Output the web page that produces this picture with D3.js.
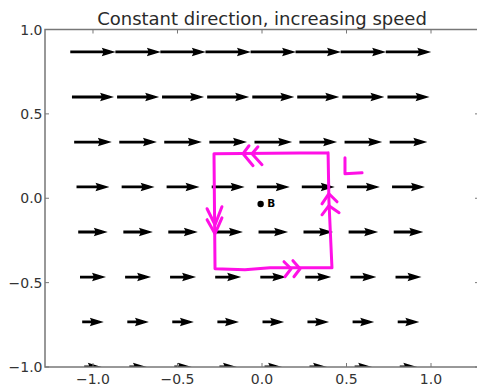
<!DOCTYPE html>
<html>
<head>
<meta charset="utf-8">
<script src="https://cdn.jsdelivr.net/npm/d3@7"></script>
<style>
  body { margin: 0; background: #fff; }
  svg { display: block; }
</style>
</head>
<body>
<svg id="chart"></svg>
<script>
// grid of arrow centres (same values on both axes)
const gridX = [-1, -0.733, -0.467, -0.2, 0.067, 0.333, 0.6, 0.867];
const gridY = [-1, -0.733, -0.467, -0.2, 0.067, 0.333, 0.6, 0.867];
// arrow length per row (x units), grows with y
const rowSpeed = [0.104, 0.128, 0.154, 0.175, 0.195, 0.223, 0.249, 0.269];

const xTicks = [-1.0, -0.5, 0.0, 0.5, 1.0];
const yTicks = [-1.0, -0.5, 0.0, 0.5, 1.0];

// hand drawn loop and marks (data units)
const loopPts = [[0.391, 0.270], [-0.284, 0.264], [-0.278, -0.418], [-0.101, -0.424],
  [0.047, -0.412], [0.414, -0.412], [0.396, -0.015], [0.391, 0.270]];
const chevrons = [
  [[-0.077, 0.311], [-0.112, 0.264], [-0.053, 0.193]],
  [[-0.024, 0.305], [-0.059, 0.264], [0.0, 0.199]],
  [[-0.325, -0.062], [-0.278, -0.157], [-0.237, -0.050]],
  [[-0.325, -0.127], [-0.278, -0.210], [-0.237, -0.116]],
  [[0.355, -0.033], [0.396, 0.027], [0.444, -0.021]],
  [[0.355, -0.098], [0.396, -0.044], [0.456, -0.086]],
  [[0.130, -0.376], [0.172, -0.418], [0.136, -0.465]],
  [[0.183, -0.370], [0.225, -0.418], [0.189, -0.465]]
];
const markL = [[0.491, 0.240], [0.491, 0.145], [0.592, 0.151]];
const pointB = { x: -0.008, y: -0.034, label: "B" };

const W = 477, H = 388;
const pLeft = 45, pRight = 479, pTop = 29.5, pBottom = 367;

const svg = d3.select("#chart").attr("width", W).attr("height", H);

const x = d3.scaleLinear().domain([-1.284, 1.284]).range([pLeft, pRight]);
const y = d3.scaleLinear().domain([-1, 1]).range([pBottom, pTop]);

svg.append("defs").append("clipPath").attr("id", "clip")
  .append("rect")
  .attr("x", pLeft).attr("y", pTop)
  .attr("width", pRight - pLeft).attr("height", pBottom - pTop);

// Add arrows (matplotlib quiver style, pivot middle)
const sw = 2.8; // shaft width px
function arrowPath(L) {
  const hl = 5 * sw, ha = 4.5 * sw, hw = 1.5 * sw, s = 0.5 * sw;
  const x0 = -L / 2;
  return [[x0, s], [x0 + L - ha, s], [x0 + L - hl, hw], [x0 + L, 0],
    [x0 + L - hl, -hw], [x0 + L - ha, -s], [x0, -s]]
    .map(p => p.join(",")).join(" ");
}

const arrowData = [];
gridY.forEach((gy, i) => {
  gridX.forEach(gx => arrowData.push({ gx, gy, u: rowSpeed[i] }));
});

const arrows = svg.append("g").attr("clip-path", "url(#clip)");
arrows.selectAll("polygon")
  .data(arrowData)
  .enter()
  .append("polygon")
  .attr("transform", d => "translate(" + x(d.gx) + "," + y(d.gy) + ")")
  .attr("points", d => arrowPath(x(d.u) - x(0)))
  .style("fill", "#000");

// Axes frame
svg.append("rect")
  .attr("x", pLeft).attr("y", pTop)
  .attr("width", pRight - pLeft).attr("height", pBottom - pTop)
  .style("fill", "none")
  .style("stroke", "#777")
  .style("stroke-width", 1.5);

const tickLen = 4;
const axisG = svg.append("g").style("stroke", "#777").style("stroke-width", 1);
xTicks.forEach(t => {
  axisG.append("line").attr("x1", x(t)).attr("x2", x(t)).attr("y1", pBottom).attr("y2", pBottom - tickLen);
  axisG.append("line").attr("x1", x(t)).attr("x2", x(t)).attr("y1", pTop).attr("y2", pTop + tickLen);
});
yTicks.forEach(t => {
  axisG.append("line").attr("y1", y(t)).attr("y2", y(t)).attr("x1", pLeft).attr("x2", pLeft + tickLen);
  axisG.append("line").attr("y1", y(t)).attr("y2", y(t)).attr("x1", pRight).attr("x2", pRight - tickLen);
});

const fmt = v => d3.format(".1f")(v).replace("-", "\u2212");

svg.append("g").selectAll("text")
  .data(xTicks)
  .enter()
  .append("text")
  .attr("x", d => x(d))
  .attr("y", pBottom + 16.5)
  .attr("text-anchor", "middle")
  .text(fmt)
  .style("font", "14px 'DejaVu Sans'")
  .style("fill", "#333");

svg.append("g").selectAll("text")
  .data(yTicks)
  .enter()
  .append("text")
  .attr("x", pLeft - 2.5)
  .attr("y", d => y(d) + 5)
  .attr("text-anchor", "end")
  .text(fmt)
  .style("font", "14px 'DejaVu Sans'")
  .style("fill", "#333");

svg.append("text")
  .attr("x", (pLeft + pRight) / 2)
  .attr("y", 25)
  .attr("text-anchor", "middle")
  .text("Constant direction, increasing speed")
  .style("font", "18px 'DejaVu Sans'")
  .style("fill", "#2a2a2a");

// Point B
svg.append("circle")
  .attr("cx", x(pointB.x)).attr("cy", y(pointB.y))
  .attr("r", 3.2)
  .style("fill", "#000");
svg.append("text")
  .attr("x", x(pointB.x) + 6.5)
  .attr("y", y(pointB.y) + 3.5)
  .text(pointB.label)
  .style("font", "bold 10.5px 'DejaVu Sans'")
  .style("fill", "#000");

// Hand drawn loop
const line = d3.line().x(d => x(d[0])).y(d => y(d[1])).curve(d3.curveLinear);
const ink = svg.append("g")
  .style("fill", "none")
  .style("stroke", "#ff10e6")
  .style("stroke-width", 3)
  .style("stroke-linecap", "round")
  .style("stroke-linejoin", "round");

ink.append("path").attr("d", line(loopPts));
ink.selectAll(".chev")
  .data(chevrons)
  .enter()
  .append("path")
  .attr("class", "chev")
  .attr("d", d => line(d));
ink.append("path").attr("d", line(markL));
</script>
</body>
</html>
